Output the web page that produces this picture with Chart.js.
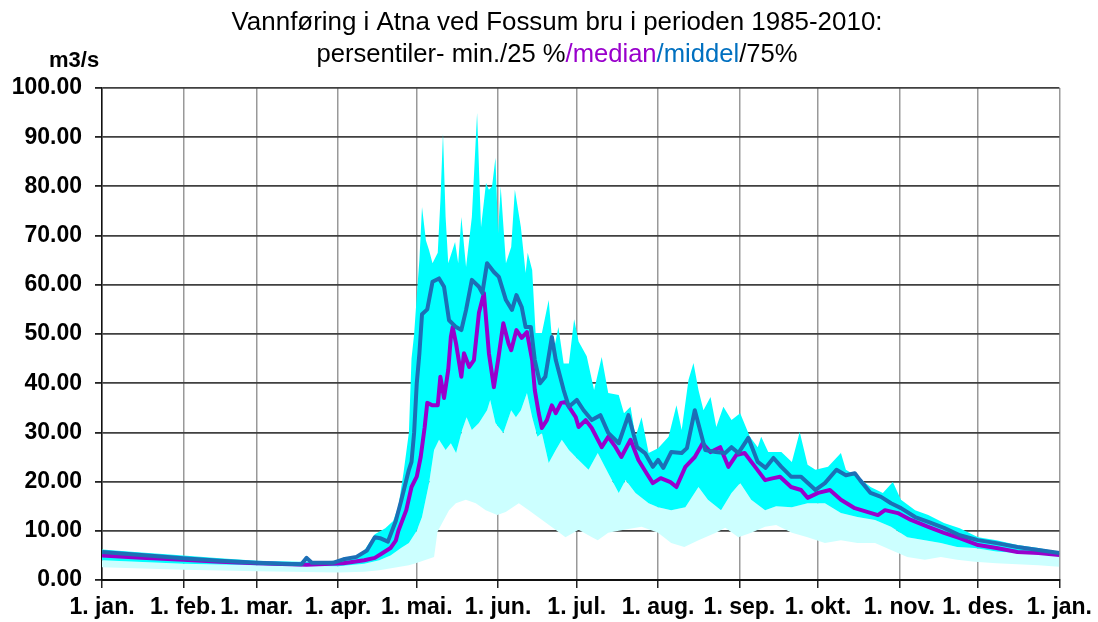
<!DOCTYPE html>
<html>
<head>
<meta charset="utf-8">
<script src="https://cdn.jsdelivr.net/npm/chart.js@4.4.1/dist/chart.umd.min.js"></script>
<style>
  body { margin: 0; background: #fff; }
  #wrap { width: 1098px; height: 622px; }
</style>
</head>
<body>
<div id="wrap"><canvas id="chart" width="1098" height="622"></canvas></div>
<script>
// x axis: day of year, ticks on the first of each month
const monthDays = [0, 31, 59, 90, 120, 151, 181, 212, 243, 273, 304, 334, 365];
const monthLabels = ["1. jan.", "1. feb.", "1. mar.", "1. apr.", "1. mai.", "1. jun.", "1. jul.",
  "1. aug.", "1. sep.", "1. okt.", "1. nov.", "1. des.", "1. jan."];

// middel (mean)
const meanDays = [0, 10, 20, 31, 45, 59, 69, 76, 78, 80, 88, 92, 97, 101, 104, 106, 109, 112, 114, 117,
  118, 119, 120, 121, 122, 124, 126, 128.5, 130.4, 132.3, 135, 137, 138.8, 141, 143.7, 145, 146.8, 149.4,
  151.3, 154, 156.3, 158, 160, 161.5, 163.5, 165, 167, 169, 171.5, 173, 176, 178, 181, 183.6, 186.7, 190,
  193, 197, 200.7, 204, 207, 210, 212, 214, 217, 221, 223, 226, 230, 234, 237.6, 240, 242.6, 246.4, 250,
  253, 256, 259, 262.7, 266.5, 272, 275.6, 280, 283.6, 287, 289, 293, 297, 300.8, 304.6, 310, 315, 321,
  327, 334, 341, 349, 357, 365];
const meanFlow = [5.7, 5.3, 4.9, 4.4, 3.9, 3.5, 3.3, 3.2, 4.5, 3.5, 3.5, 4.2, 4.7, 6.0, 8.7, 8.5, 7.8, 12, 16, 22.4,
  24, 30, 40, 46, 54, 55, 60.6, 61.3, 59.6, 52.8, 51.4, 50.8, 54.9, 61, 59.6, 58.3, 64.4, 62.6,
  61.6, 56.9, 54.9, 57.9, 55.5, 51.4, 51.4, 44.7, 40, 41.3, 49.4, 44.7, 38.6, 35.2, 36.6, 34.5, 32.5, 33.5,
  29.9, 27.8, 33.5, 27, 25.8, 23, 24.4, 22.8, 26, 25.8, 26.8, 34.5, 26.4, 26, 25.8, 27, 25.8, 28.9, 24,
  22.8, 24.8, 23, 21, 21, 18.3, 19.7, 22.4, 21.3, 21.7, 20.3, 17.7, 16.9, 15.6, 14.6, 12.8, 11.8, 10.6,
  9.1, 8.1, 7.5, 6.7, 6.1, 5.5];

// median
const medianDays = [0, 15, 31, 45, 59, 78, 92, 100, 104, 107, 110, 112, 113, 116, 118, 120, 121.5, 123, 124,
  126, 128, 129, 130.4, 132, 133, 133.7, 135, 137, 138, 140, 141.8, 143.7, 145.6, 147.5, 149.4, 151, 153,
  155, 156, 158, 160, 162, 164, 165, 166.5, 167.7, 169.6, 171.5, 173, 175, 176.8, 180.6, 181.7, 184.4,
  186.7, 190.5, 193, 195.8, 198, 201.5, 204.5, 207.6, 210, 213, 216.7, 219, 222.4, 226, 229, 232, 235.7,
  238.8, 241.8, 245, 249, 252.8, 256, 258.5, 262.7, 266.5, 269, 273, 277.5, 281.7, 287, 292, 295.8, 298.5,
  303.4, 308.4, 315, 321, 327, 334, 341, 349, 357, 365];
const medianFlow = [5.0, 4.5, 4.1, 3.7, 3.4, 3.1, 3.4, 4.0, 4.5, 5.5, 6.5, 8, 10, 14.2, 18.9, 21, 25, 31, 36,
  35.5, 35.5, 41.3, 37, 42.7, 49.4, 51.4, 48, 41.3, 46.1, 43.3, 44.7, 54.3, 58.3, 46.1, 39.2, 44.7, 52.2,
  48, 46.7, 50.8, 49.2, 50.4, 44.7, 38.6, 33.9, 30.9, 32.5, 35.5, 33.9, 36, 36.2, 33.1, 31.1, 32.5,
  30.9, 27, 29.1, 27, 25, 28.5, 24.4, 21.7, 19.7, 20.7, 19.9, 18.9, 23, 25, 27.8, 26, 27,
  23, 25.4, 25.8, 23, 20.3, 20.7, 21, 18.9, 18.3, 16.7, 17.7, 18.3, 16.3, 14.6, 13.8, 13.2, 14.2,
  13.6, 12.2, 10.8, 9.6, 8.5, 7.1, 6.5, 5.7, 5.5, 5.1];

// 75 % persentil
const p75Days = [0, 15, 31, 45, 59, 75, 90, 97, 100, 104, 108, 111, 113, 115, 117, 118, 119, 120.3, 121, 122,
  123.5, 124.7, 126, 128, 129, 130, 131, 132, 134.6, 135.8, 137, 138.8, 141, 143, 144.5, 146.4, 147.5,
  148.7, 150, 151, 152, 154, 156, 157.4, 159.7, 161.5, 162.3, 164, 165.3, 167.7, 170.3, 172, 174, 176,
  178, 180, 181.7, 184.8, 187.6, 190.5, 193, 197, 199, 201.5, 203.4, 205.7, 208.4, 212, 216, 219, 221,
  223.6, 225.5, 227.4, 229.3, 232, 234.2, 236.9, 240, 243.3, 247, 250, 251.3, 254, 259, 263, 266, 269,
  272, 276.8, 281.7, 283.6, 288, 293, 297.7, 301.5, 304.6, 310, 315, 321, 327, 334, 341, 349, 357, 365];
const p75Flow = [6.2, 5.6, 5.0, 4.4, 3.9, 3.7, 3.9, 5, 6, 9.3, 10.5, 12, 15, 22, 30, 45, 50, 60, 65, 75.8,
  69, 67, 64.4, 66.5, 77, 90.8, 73.8, 64.4, 68.7, 64.4, 73.8, 63.6, 73.8, 94.9, 71.7, 80.7, 79.3,
  80, 85.8, 70.5, 80, 64.4, 67.7, 79.3, 71.7, 62.4, 66.5, 63, 50.2, 50.2, 56.9, 46.1, 51.4, 44,
  44, 53, 48.5, 45.5, 38.6, 45.3, 38, 37.6, 33.9, 35.2, 29.1, 33.1, 25.8, 26.8, 29.1, 35.5, 30.5,
  40.7, 44.1, 38.6, 34.5, 37.2, 31.1, 35.2, 32.5, 33.9, 29.1, 27, 29.1, 26, 26, 24, 30.1, 23.4,
  22.4, 23, 25.8, 22.4, 21, 18.9, 17.7, 19.9, 16.3, 14.2, 13.2, 11.6, 10.5, 8.7, 8.1, 7.1, 6.5, 5.7];

// 25 % persentil
const p25Days = [0, 31, 59, 90, 100, 105.7, 110, 114, 117, 120, 122, 124.7, 126.6, 128.5, 131, 133, 135, 137.3,
  139, 141, 143.7, 146.8, 148, 150, 153, 156, 157.8, 159.7, 162, 164, 166, 167.7, 170.3, 173, 175.3, 178,
  181.7, 185.5, 189, 193, 197, 199.6, 203.4, 208.4, 212, 217, 222.4, 227.4, 231, 236, 240, 243.3, 247.5,
  252.8, 257, 263, 269, 275.6, 281.7, 288, 294.7, 300.8, 307, 313.7, 319.8, 326, 332.7, 341, 349, 357, 365];
const p25Flow = [4.0, 3.3, 3.0, 2.8, 3.3, 4.0, 5, 6.5, 7.5, 10, 12.8, 19.7, 26.4, 28.5, 26.4, 27.8, 25.8, 30.5,
  33.1, 30.5, 31.9, 34.5, 36.6, 31.9, 29.9, 34.5, 33.1, 34.5, 38, 33.1, 29.1, 29.9, 23.8, 26.4, 28.5, 26.4,
  24.4, 22.4, 25.8, 21.7, 17.7, 20.3, 17.7, 15.6, 14.8, 14.2, 14.8, 18.9, 16.3, 14.2, 17.7, 19.7, 16.3,
  14.2, 15, 14.8, 15.6, 15.6, 13.6, 12.8, 12.2, 10.8, 8.7, 8.1, 7.5, 6.7, 6.5, 5.8, 5.5, 5.3, 5.1];

// min.
const minDays = [0, 31, 59, 90, 100, 105.7, 117, 119.6, 126.6, 127.9, 132.3, 134.9, 138.7, 142.5, 146.3, 150.7,
  153.9, 158.9, 162.7, 167.8, 172.9, 176.7, 181.7, 186.8, 189, 193, 199, 205.7, 212, 217, 222, 227.4, 234,
  237.6, 242.6, 247.5, 252.8, 257, 263, 269, 275.6, 281.7, 288, 294.7, 300.8, 307, 313.7, 319.8, 326, 332.7,
  341, 349, 357, 365];
const minFlow = [2.6, 2.1, 1.8, 1.5, 1.7, 2.0, 3.0, 3.4, 4.7, 9.8, 14.2, 15.6, 16.3, 15.6, 14.2, 13.2,
  13.8, 15.6, 14.2, 12.2, 10.2, 8.7, 10.2, 8.7, 8.1, 9.6, 10.2, 10.8, 9.6, 7.5, 6.7, 8.1, 9.6,
  10.6, 8.7, 9.6, 10.8, 11.2, 9.6, 8.7, 7.5, 8.1, 7.5, 7.5, 6.1, 4.7, 4.1, 4.7, 4.1, 3.7,
  3.4, 3.2, 3.0, 2.7];

const titleLine1 = "Vannføring i Atna ved Fossum bru i perioden 1985-2010:";
const titleLine2 = [["persentiler- min./25 %", "#000000"], ["/median", "#9900cc"], ["/middel", "#0070c0"], ["/75%", "#000000"]];

function pts(days, vals) {
  return days.map(function (d, i) { return { x: d, y: vals[i] }; });
}

// draw text pieces squeezed to a given width (the original title is condensed)
function drawFitted(ctx, parts, cx, y, width) {
  var total = 0;
  parts.forEach(function (p) { total += ctx.measureText(p[0]).width; });
  var k = width / total;
  ctx.save();
  ctx.translate(cx - width / 2, y);
  ctx.scale(k, 1);
  var x = 0;
  parts.forEach(function (p) {
    ctx.fillStyle = p[1];
    ctx.fillText(p[0], x, 0);
    x += ctx.measureText(p[0]).width;
  });
  ctx.restore();
}

const titlePlugin = {
  id: "titles",
  afterDraw(chart) {
    const ctx = chart.ctx;
    ctx.save();
    ctx.textBaseline = "alphabetic";
    ctx.textAlign = "left";
    ctx.font = '25px "Liberation Sans", Arial, sans-serif';
    drawFitted(ctx, [[titleLine1, "#000000"]], 557, 30, 651);
    drawFitted(ctx, titleLine2, 557, 62, 481);
    ctx.font = 'bold 22px "Liberation Sans", Arial, sans-serif';
    ctx.fillStyle = "#000";
    ctx.fillText("m3/s", 49, 67);
    ctx.restore();
  }
};

const band = { borderWidth: 0, pointRadius: 0, tension: 0 };

new Chart(document.getElementById("chart").getContext("2d"), {
  type: "line",
  data: {
    datasets: [
      { label: "middel", data: pts(meanDays, meanFlow), borderColor: "#1c6fb6", borderWidth: 4,
        pointRadius: 0, fill: false, tension: 0, borderJoinStyle: "round" },
      { label: "median", data: pts(medianDays, medianFlow), borderColor: "#9900cc", borderWidth: 4,
        pointRadius: 0, fill: false, tension: 0, borderJoinStyle: "round" },
      Object.assign({ label: "75%", data: pts(p75Days, p75Flow), backgroundColor: "#00ffff", fill: 3 }, band),
      Object.assign({ label: "25%", data: pts(p25Days, p25Flow), backgroundColor: "#ccffff", fill: 4 }, band),
      Object.assign({ label: "min.", data: pts(minDays, minFlow), fill: false }, band)
    ]
  },
  options: {
    responsive: false,
    animation: false,
    events: [],
    layout: { autoPadding: false, padding: { top: 88, right: 33, left: 0, bottom: 0 } },
    plugins: { legend: { display: false }, tooltip: { enabled: false }, title: { display: false } },
    scales: {
      x: {
        type: "linear",
        min: 0,
        max: 365,
        afterBuildTicks: function (scale) {
          scale.ticks = monthDays.map(function (d) { return { value: d }; });
        },
        afterFit: function (scale) { scale.height = 42; },
        ticks: {
          autoSkip: false,
          maxRotation: 0,
          padding: 6,
          color: "#000",
          font: { family: '"Liberation Sans", Arial, sans-serif', size: 23, weight: "bold" },
          callback: function (value, index) { return monthLabels[index]; }
        },
        grid: { color: "#999999", lineWidth: 1.5, tickLength: 8, tickColor: "#222" },
        border: { color: "#111", width: 2 }
      },
      y: {
        min: 0,
        max: 100,
        afterFit: function (scale) { scale.width = 102; },
        ticks: {
          stepSize: 10,
          padding: 13,
          color: "#000",
          font: { family: '"Liberation Sans", Arial, sans-serif', size: 23, weight: "bold" },
          callback: function (value) { return value.toFixed(2); }
        },
        grid: { color: "#404040", lineWidth: 1.8, tickLength: 7, tickColor: "#222" },
        border: { color: "#111", width: 1.5 }
      }
    }
  },
  plugins: [titlePlugin]
});
</script>
</body>
</html>
